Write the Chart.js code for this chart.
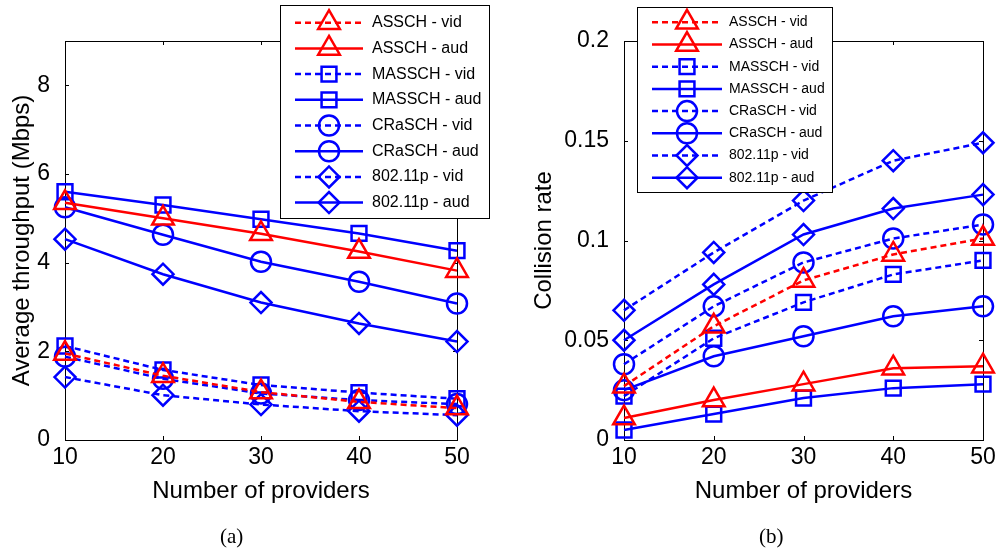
<!DOCTYPE html>
<html>
<head>
<meta charset="utf-8">
<script src="https://cdn.jsdelivr.net/npm/chart.js@4/dist/chart.umd.min.js"></script>
<style>
  body { margin: 0; background: #fff; }
  #wrap { position: relative; width: 1002px; height: 554px; overflow: hidden; }
  canvas { position: absolute; top: 0; }
  .cap { position: absolute; top: 524px; font: 21px "Liberation Serif", "Times New Roman", serif; color: #000; }
</style>
</head>
<body>
<div id="wrap">
  <canvas id="tpChart" width="500" height="554" style="left:0"></canvas>
  <canvas id="crChart" width="502" height="554" style="left:500px"></canvas>
  <div class="cap" style="left:220px">(a)</div>
  <div class="cap" style="left:759px">(b)</div>
</div>
<script>
// данные
const providers = [10, 20, 30, 40, 50];
const seriesLabels = ['ASSCH - vid', 'ASSCH - aud', 'MASSCH - vid', 'MASSCH - aud',
                      'CRaSCH - vid', 'CRaSCH - aud', '802.11p - vid', '802.11p - aud'];

// (a) Average throughput (Mbps)
const asschVidTp   = [1.95, 1.45, 1.08, 0.86, 0.72];
const asschAudTp   = [5.35, 5.0, 4.65, 4.25, 3.82];
const masschVidTp  = [2.12, 1.58, 1.24, 1.07, 0.93];
const masschAudTp  = [5.6, 5.3, 4.98, 4.66, 4.27];
const craschVidTp  = [1.88, 1.38, 1.05, 0.9, 0.81];
const craschAudTp  = [5.25, 4.63, 4.02, 3.57, 3.08];
const wave80VidTp  = [1.42, 1.01, 0.8, 0.65, 0.56];
const wave80AudTp  = [4.53, 3.74, 3.1, 2.63, 2.22];

// (b) Collision rate
const asschVidCr   = [0.027, 0.057, 0.08, 0.093, 0.101];
const asschAudCr   = [0.011, 0.02, 0.028, 0.036, 0.037];
const masschVidCr  = [0.022, 0.051, 0.069, 0.083, 0.09];
const masschAudCr  = [0.005, 0.013, 0.021, 0.026, 0.028];
const craschVidCr  = [0.038, 0.067, 0.089, 0.101, 0.108];
const craschAudCr  = [0.025, 0.042, 0.052, 0.062, 0.067];
const wave80VidCr  = [0.065, 0.094, 0.12, 0.14, 0.149];
const wave80AudCr  = [0.05, 0.078, 0.103, 0.116, 0.123];

const xTicks = [10, 20, 30, 40, 50];
const tpTicks = [0, 2, 4, 6, 8];
const crTicks = [0, 0.05, 0.1, 0.15, 0.2];
const crTickLabels = ['0', '0.05', '0.1', '0.15', '0.2'];

// стили
const colors = ['#ff0000', '#ff0000', '#0000ff', '#0000ff', '#0000ff', '#0000ff', '#0000ff', '#0000ff'];
const dashed = [true, false, true, false, true, false, true, false];
const markers = ['triangle', 'triangle', 'rect', 'rect', 'circle', 'circle', 'rectRot', 'rectRot'];
const markerSize = { triangle: 12.5, rect: 10.5, circle: 10, rectRot: 10.5 };

Chart.defaults.font.family = '"Liberation Sans", Arial, Helvetica, sans-serif';
Chart.defaults.color = '#000';

function buildDatasets(values) {
    return seriesLabels.map((label, i) => ({
        label,
        data: providers.map((x, j) => ({ x, y: values[i][j] })),
        borderColor: colors[i],
        borderWidth: 2.5,
        borderDash: dashed[i] ? [6, 4] : [],
        pointStyle: markers[i],
        pointRadius: markerSize[markers[i]],
        pointBorderWidth: 2.5,
        pointBorderColor: colors[i],
        pointBackgroundColor: 'rgba(0,0,0,0)',
        fill: false,
        tension: 0,
        clip: false,
    }));
}

// рамка и внутренние засечки как в MATLAB
const boxPlugin = {
    id: 'box',
    beforeDatasetsDraw(chart) {
        const { ctx, chartArea: a, scales } = chart;
        const tl = 4;
        ctx.save();
        ctx.strokeStyle = '#000';
        ctx.lineWidth = 1;
        ctx.strokeRect(Math.round(a.left) + 0.5, Math.round(a.top) + 0.5,
                       Math.round(a.right - a.left), Math.round(a.bottom - a.top));
        ctx.beginPath();
        scales.y.ticks.forEach(t => {
            const y = Math.round(scales.y.getPixelForValue(t.value)) + 0.5;
            ctx.moveTo(a.left, y); ctx.lineTo(a.left + tl, y);
            ctx.moveTo(a.right, y); ctx.lineTo(a.right - tl, y);
        });
        scales.x.ticks.forEach(t => {
            const x = Math.round(scales.x.getPixelForValue(t.value)) + 0.5;
            ctx.moveTo(x, a.bottom); ctx.lineTo(x, a.bottom - tl);
            ctx.moveTo(x, a.top); ctx.lineTo(x, a.top + tl);
        });
        ctx.stroke();
        ctx.restore();
    },
};

// легенда в рамке поверх графика
const boxLegendPlugin = {
    id: 'boxLegend',
    afterDraw(chart, args, opts) {
        const { ctx } = chart;
        ctx.save();
        ctx.fillStyle = '#fff';
        ctx.fillRect(opts.x0, opts.y0, opts.x1 - opts.x0, opts.y1 - opts.y0);
        ctx.strokeStyle = '#000';
        ctx.lineWidth = 1;
        ctx.strokeRect(opts.x0 + 0.5, opts.y0 + 0.5, opts.x1 - opts.x0, opts.y1 - opts.y0);
        chart.data.datasets.forEach((ds, i) => {
            const y = opts.rowY0 + i * opts.rowStep;
            ctx.strokeStyle = ds.borderColor;
            ctx.lineWidth = ds.borderWidth;
            ctx.setLineDash(ds.borderDash);
            ctx.beginPath();
            ctx.moveTo(opts.lineX0, y);
            ctx.lineTo(opts.lineX1, y);
            ctx.stroke();
            ctx.setLineDash([]);
            ctx.fillStyle = 'rgba(0,0,0,0)';
            Chart.helpers.drawPoint(ctx, {
                pointStyle: ds.pointStyle, rotation: 0,
                radius: ds.pointRadius, borderWidth: ds.pointBorderWidth,
            }, (opts.lineX0 + opts.lineX1) / 2, y);
            ctx.fillStyle = '#000';
            ctx.font = opts.font;
            ctx.textBaseline = 'middle';
            ctx.textAlign = 'left';
            ctx.fillText(ds.label, opts.textX, y);
        });
        ctx.restore();
    },
};

function createChart(id, datasets, cfg) {
    const ctx = document.getElementById(id).getContext('2d');
    return new Chart(ctx, {
        type: 'line',
        data: { datasets },
        plugins: [boxPlugin, boxLegendPlugin],
        options: {
            responsive: false,
            animation: false,
            layout: { padding: { left: 0, top: 41, right: cfg.padRight, bottom: 44 } },
            plugins: {
                legend: { display: false },
                tooltip: { enabled: false },
                boxLegend: cfg.legend,
            },
            scales: {
                x: {
                    type: 'linear',
                    min: 10,
                    max: 50,
                    afterBuildTicks: s => { s.ticks = xTicks.map(v => ({ value: v })); },
                    afterFit: s => { s.height = 70; },
                    grid: { display: false },
                    border: { display: false },
                    ticks: { font: { size: 23 }, padding: -4, maxRotation: 0 },
                    title: {
                        display: true,
                        text: 'Number of providers',
                        font: { size: 24 },
                        padding: { top: 0, bottom: 4 },
                    },
                },
                y: {
                    type: 'linear',
                    min: cfg.yMin,
                    max: cfg.yMax,
                    afterBuildTicks: s => { s.ticks = cfg.yTicks.map(v => ({ value: v })); },
                    afterFit: s => { s.width = cfg.yWidth; },
                    grid: { display: false },
                    border: { display: false },
                    ticks: {
                        font: { size: 23 },
                        padding: 7,
                        callback: cfg.yLabel,
                    },
                    title: {
                        display: true,
                        text: cfg.yTitle,
                        font: { size: 24 },
                        padding: { top: cfg.titlePad, bottom: 0 },
                    },
                },
            },
        },
    });
}

createChart('tpChart',
    buildDatasets([asschVidTp, asschAudTp, masschVidTp, masschAudTp,
                   craschVidTp, craschAudTp, wave80VidTp, wave80AudTp]),
    {
        padRight: 43, yMin: 0, yMax: 9, yTicks: tpTicks, yWidth: 65,
        yLabel: v => String(v),
        yTitle: 'Average throughput (Mbps)', titlePad: 8,
        legend: {
            x0: 280, y0: 5, x1: 489, y1: 218,
            rowY0: 22.7, rowStep: 25.7,
            lineX0: 295, lineX1: 363, textX: 372,
            font: '16px "Liberation Sans", Arial, sans-serif',
        },
    });

createChart('crChart',
    buildDatasets([asschVidCr, asschAudCr, masschVidCr, masschAudCr,
                   craschVidCr, craschAudCr, wave80VidCr, wave80AudCr]),
    {
        padRight: 19, yMin: 0, yMax: 0.2, yTicks: crTicks, yWidth: 124,
        yLabel: v => crTickLabels[crTicks.indexOf(v)] ?? String(v),
        yTitle: 'Collision rate', titlePad: 30,
        legend: {
            x0: 137, y0: 7, x1: 332, y1: 192,
            rowY0: 22.3, rowStep: 22.2,
            lineX0: 152, lineX1: 222, textX: 229,
            font: '14px "Liberation Sans", Arial, sans-serif',
        },
    });
</script>
</body>
</html>
